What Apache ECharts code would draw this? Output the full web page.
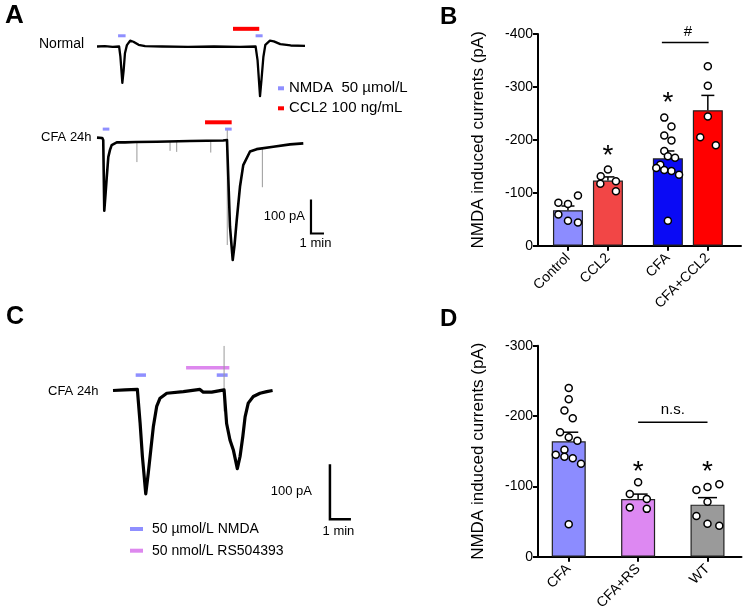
<!DOCTYPE html>
<html><head><meta charset="utf-8">
<script src="https://cdn.jsdelivr.net/npm/echarts@6/dist/echarts.min.js"></script>
<style>html,body{margin:0;padding:0;background:#fff}#c{width:745px;height:615px}</style>
</head><body><div id="c"></div>
<script>
// ===== Panel A: example traces (time in min, current in pA) =====
const normalTrace = [[0,0],[0.6,1],[1.2,-1],[1.7,0],[1.8,-30],[1.95,-107],[2.05,-70],[2.15,-20],[2.3,4],[2.55,17],[2.8,14],[3.2,5],[3.7,1],[5,0],[7,-1],[9,0],[11,-1],[12.2,0],[12.35,-40],[12.54,-146],[12.65,-99],[12.8,-30],[12.95,5],[13.3,17],[13.6,15],[14.1,7],[14.9,3],[16,2]];
const cfaTrace = [[0,10],[0.4,9],[0.48,3],[0.56,-205],[0.65,-159],[0.75,-106],[0.87,-47],[1.0,-26],[1.13,-12],[1.52,-4],[2.15,-4],[3.0,-3],[4.6,-2],[7.15,0],[9.7,1.5],[10.0,3],[10.23,-252],[10.44,-350],[10.58,-306],[10.75,-232],[11.0,-134],[11.25,-71],[11.77,-31],[12.28,-24],[13.56,-17],[14.85,-10],[15.87,-7]];
const cfaSpikes = [[3.07,-3,-62],[5.62,-2,-29],[6.13,-2,-32],[8.75,0,-34],[10.02,32,-306],[12.72,-20,-136]];
const normalNMDA = [[1.62,2.2],[12.2,12.74]];
const normalCCL2 = [[10.46,12.48]];
const cfaNMDA = [[0.44,0.95],[9.85,10.36]];
const cfaCCL2 = [[8.31,10.36]];
// ===== Panel C trace =====
const cTrace = [[0,0],[0.57,1],[1.16,2],[1.29,-59],[1.40,-120],[1.56,-188],[1.68,-150],[1.80,-108],[1.92,-66],[2.08,-29],[2.24,-14],[2.56,-5],[3.35,-2],[4.14,2],[4.30,-3],[4.70,-3],[4.78,0],[5.29,1],[5.33,1],[5.41,-60],[5.57,-90],[5.73,-108],[5.92,-142],[6.05,-120],[6.18,-84],[6.29,-48],[6.44,-23],[6.68,-11],[7.0,-5],[7.32,-2],[7.6,0]];
const cSpikes = [[5.29,81,-38]];
const cNMDA = [[1.08,1.57],[4.94,5.46]];
const cRS = [[3.48,5.54]];
// ===== Panel B =====
const bCategories = ['Control','CCL2','CFA','CFA+CCL2'];
const bPositions = [1,2,3.5,4.5];
const bMeans = [-67,-123,-165,-256];
const bSEM = [8,7,14,28];
const bPoints = [
  [-81,-79,-95,-59,-47,-44],
  [-131,-144,-122,-117,-103],
  [-242,-225,-208,-199,-179,-169,-166,-153,-147,-143,-141,-134,-47],
  [-339,-302,-244,-205,-190]
];
const bJitter = [
  [-0.24,0,0.25,-0.24,0,0.25],
  [-0.18,0,0.2,-0.19,0.2],
  [-0.09,0.09,-0.09,0.09,-0.09,0,0.18,-0.19,-0.29,-0.09,0.09,0.28,0],
  [0,0,0,-0.19,0.2]
];
const bTicks = [-400,-300,-200,-100,0];
// ===== Panel D =====
const dCategories = ['CFA','CFA+RS','WT'];
const dPositions = [1,2,3];
const dMeans = [-164,-82,-74];
const dSEM = [13,7,10];
const dPoints = [
  [-240,-224,-208,-197,-177,-170,-165,-152,-145,-142,-140,-132,-46],
  [-106,-89,-82,-70,-68],
  [-95,-99,-103,-78,-58,-47,-44]
];
const dJitter = [
  [0,0,-0.062,0.058,-0.125,0,0.125,-0.062,-0.187,-0.062,0.058,0.177,0],
  [0,-0.12,0.125,-0.12,0.125],
  [-0.16,0,0.17,0,-0.16,0,0.17]
];
const dTicks = [-300,-200,-100,0];

const F = '"Liberation Sans", Arial, Helvetica, sans-serif';
const chart = echarts.init(document.getElementById('c'), null, {renderer:'canvas'});

function stimSeries(name, intervals, level, color, h, xi){
  return {type:'custom', name, xAxisIndex:xi, yAxisIndex:xi, itemStyle:{color},
    data: intervals.map(d=>[d[0], d[1], level]), encode:{x:[0,1], y:2}, silent:true,
    renderItem(params, api){
      const p0 = api.coord([api.value(0), api.value(2)]);
      const p1 = api.coord([api.value(1), api.value(2)]);
      return {type:'rect', shape:{x:p0[0], y:p0[1]-h/2, width:p1[0]-p0[0], height:h}, style:{fill:color}};
    }};
}
function spikeSeries(spikes, xi){
  return {type:'custom', xAxisIndex:xi, yAxisIndex:xi, data:spikes, encode:{x:0, y:[1,2]}, silent:true,
    renderItem(params, api){
      const p0 = api.coord([api.value(0), api.value(1)]);
      const p1 = api.coord([api.value(0), api.value(2)]);
      return {type:'line', shape:{x1:p0[0], y1:p0[1], x2:p1[0], y2:p1[1]}, style:{stroke:'#999', lineWidth:1}};
    }};
}
function traceSeries(data, xi, w){
  return {type:'line', xAxisIndex:xi, yAxisIndex:xi, data, showSymbol:false, symbol:'none', silent:true,
    lineStyle:{color:'#000', width:w, join:'round'}, z:3};
}
function scaleBarSeries(t, v, xi, w, gapL, gapB){
  return {type:'custom', xAxisIndex:xi, yAxisIndex:xi, data:[[t, v, t+1, v+100]], encode:{x:[0,2], y:[1,3]}, silent:true,
    renderItem(params, api){
      const b = api.coord([api.value(0), api.value(1)]);
      const tp = api.coord([api.value(0), api.value(3)]);
      const r = api.coord([api.value(2), api.value(1)]);
      return {type:'group', children:[
        {type:'polyline', shape:{points:[tp, b, r]}, style:{stroke:'#000', lineWidth:w, fill:null}},
        {type:'text', x:b[0]-gapL, y:(b[1]+tp[1])/2, style:{text:'100 pA', fill:'#000', font:'13px '+F, align:'right', verticalAlign:'middle'}},
        {type:'text', x:(b[0]+r[0])/2 - 2, y:b[1]+gapB, style:{text:'1 min', fill:'#000', font:'13px '+F, align:'center', verticalAlign:'middle'}}
      ]};
    }};
}
function errSeries(pos, means, sems, xi, half){
  return {type:'custom', xAxisIndex:xi, yAxisIndex:xi, data: pos.map((p,i)=>[p, means[i], sems[i]]), encode:{x:0, y:1}, z:4, silent:true,
    renderItem(params, api){
      const x = api.value(0), m = api.value(1), s = api.value(2);
      const p0 = api.coord([x, m]); const p1 = api.coord([x, m - s]);
      return {type:'group', children:[
        {type:'line', shape:{x1:p0[0], y1:p0[1], x2:p1[0], y2:p1[1]}, style:{stroke:'#000', lineWidth:1.5}},
        {type:'line', shape:{x1:p1[0]-half, y1:p1[1], x2:p1[0]+half, y2:p1[1]}, style:{stroke:'#000', lineWidth:1.5}}
      ]};
    }};
}
function pointSeries(pos, pts, jit, xi){
  const data = [];
  pts.forEach((g,i)=>g.forEach((v,j)=>data.push([pos[i]+jit[i][j], v])));
  return {type:'scatter', xAxisIndex:xi, yAxisIndex:xi, data, symbol:'circle', symbolSize:7, z:5, silent:true,
    itemStyle:{color:'#fff', borderColor:'#000', borderWidth:1.5, opacity:1}};
}
function barSeries(pos, means, colors, xi, bw){
  return {type:'bar', xAxisIndex:xi, yAxisIndex:xi, barWidth:bw, silent:true, z:2,
    data: pos.map((p,i)=>({value:[p, means[i]], itemStyle:{color:colors[i], borderColor:'#222', borderWidth:1.2}}))};
}
function annoSeries(annos, xi){
  return {type:'custom', xAxisIndex:xi, yAxisIndex:xi, data: annos.map(a=>a.line ? [a.line[0], a.v] : [a.x, a.v]), encode:{x:0, y:1}, z:6, silent:true,
    renderItem(params, api){
      const a = annos[params.dataIndex];
      if (a.line){
        const p0 = api.coord([a.line[0], a.v]); const p1 = api.coord([a.line[1], a.v]);
        return {type:'line', shape:{x1:p0[0], y1:p0[1], x2:p1[0], y2:p1[1]}, style:{stroke:'#000', lineWidth:1.5}};
      }
      const p = api.coord([a.x, a.v]);
      return {type:'text', x:p[0], y:p[1] + (a.dy||0), style:{text:a.text, fill:'#000', font:a.font, align:'center', verticalAlign:'middle'}};
    }};
}

const bAnnos = [
  {x:2, v:-181, text:'*', font:'28px '+F, dy:6},
  {x:3.5, v:-280, text:'*', font:'28px '+F, dy:6},
  {line:[3.35,4.52], v:-384},
  {x:4.0, v:-404, text:'#', font:'15px '+F, dy:0}
];
const dAnnos = [
  {x:2, v:-129, text:'*', font:'28px '+F, dy:6},
  {x:3, v:-128, text:'*', font:'28px '+F, dy:6},
  {line:[2,3], v:-191},
  {x:2.5, v:-209, text:'n.s.', font:'15px '+F, dy:0}
];

const hiddenAxis = (gi, min, max) => ({type:'value', gridIndex:gi, min, max, show:false, splitLine:{show:false}});
const axStyle = {
  axisLine:{show:true, onZero:false, lineStyle:{color:'#000', width:2}},
  axisTick:{show:true, length:5, lineStyle:{color:'#000', width:2}},
  splitLine:{show:false}
};

const option = {
  animation:false,
  backgroundColor:'#fff',
  textStyle:{fontFamily:F},
  grid:[
    {left:97, top:12.5, width:234, height:102, outerBoundsMode:'none'},
    {left:97, top:107, width:234, height:170, outerBoundsMode:'none'},
    {left:113, top:335.5, width:252, height:220, outerBoundsMode:'none'},
    {left:538, top:34, width:203, height:211.7, outerBoundsMode:'none'},
    {left:538, top:345.7, width:203.5, height:211, outerBoundsMode:'none'}
  ],
  xAxis:[
    hiddenAxis(0,0,18), hiddenAxis(1,0,18), hiddenAxis(2,0,12),
    Object.assign({type:'value', gridIndex:3, min:0.25, max:5.33,
      axisLabel:{customValues:bPositions, formatter:v=>bCategories[bPositions.indexOf(v)], rotate:45, fontSize:14, color:'#000', margin:10, fontFamily:F},
    }, axStyle, {axisTick:{show:true, customValues:bPositions, length:5, lineStyle:{color:'#000', width:2}}}),
    Object.assign({type:'value', gridIndex:4, min:0.557, max:3.49,
      axisLabel:{customValues:dPositions, formatter:v=>dCategories[dPositions.indexOf(v)], rotate:45, fontSize:14, color:'#000', margin:10, fontFamily:F},
    }, axStyle, {axisTick:{show:true, customValues:dPositions, length:5, lineStyle:{color:'#000', width:2}}})
  ],
  yAxis:[
    hiddenAxis(0,-200,100), hiddenAxis(1,-400,100), hiddenAxis(2,-300,100),
    Object.assign({type:'value', gridIndex:3, min:bTicks[0], max:bTicks[bTicks.length-1], interval:100, inverse:true,
      name:'NMDA induced currents (pA)', nameLocation:'middle', nameGap:51, nameTextStyle:{fontSize:17, color:'#000', fontFamily:F},
      axisLabel:{fontSize:14, color:'#000', margin:5, fontFamily:F}}, axStyle),
    Object.assign({type:'value', gridIndex:4, min:dTicks[0], max:dTicks[dTicks.length-1], interval:100, inverse:true,
      name:'NMDA induced currents (pA)', nameLocation:'middle', nameGap:51, nameTextStyle:{fontSize:17, color:'#000', fontFamily:F},
      axisLabel:{fontSize:14, color:'#000', margin:5, fontFamily:F}}, axStyle)
  ],
  legend:[
    {data:['NMDA  50 µmol/L','CCL2 100 ng/mL'], orient:'vertical', left:278, top:80.8, itemWidth:6, itemHeight:4, itemGap:5, padding:0, icon:'rect', selectedMode:false,
      textStyle:{fontSize:15, color:'#000', fontFamily:F}},
    {data:['50 µmol/L NMDA','50 nmol/L RS504393'], orient:'vertical', left:130, top:522, itemWidth:13, itemHeight:4, itemGap:7.7, padding:0, icon:'rect', selectedMode:false,
      textStyle:{fontSize:14, color:'#000', fontFamily:F, padding:[0,0,0,4]}}
  ],
  graphic:[
    {type:'text', left:5, top:3, style:{text:'A', font:'bold 26px '+F, fill:'#000'}},
    {type:'text', left:440, top:5, style:{text:'B', font:'bold 24px '+F, fill:'#000'}},
    {type:'text', left:6, top:305, style:{text:'C', font:'bold 25px '+F, fill:'#000'}},
    {type:'text', left:440, top:307, style:{text:'D', font:'bold 24px '+F, fill:'#000'}},
    {type:'text', x:39, y:44, style:{text:'Normal', font:'14px '+F, fill:'#000', verticalAlign:'middle'}},
    {type:'text', x:41, y:137, style:{text:'CFA 24h', font:'13px '+F, fill:'#000', verticalAlign:'middle'}},
    {type:'text', x:48, y:391, style:{text:'CFA 24h', font:'13px '+F, fill:'#000', verticalAlign:'middle'}}
  ],
  series:[
    // Panel A
    stimSeries('NMDA  50 µmol/L', normalNMDA, 31.5, '#8F8FFF', 3, 0),
    stimSeries('CCL2 100 ng/mL', normalCCL2, 52, '#FF0000', 4, 0),
    traceSeries(normalTrace, 0, 2.3),
    stimSeries('NMDA  50 µmol/L', cfaNMDA, 35, '#8F8FFF', 3, 1),
    stimSeries('CCL2 100 ng/mL', cfaCCL2, 55, '#FF0000', 4, 1),
    spikeSeries(cfaSpikes, 1),
    traceSeries(cfaTrace, 1, 2.6),
    scaleBarSeries(16.46, -272, 1, 2.2, 6, 10),
    // Panel C
    stimSeries('50 µmol/L NMDA', cNMDA, 28, '#8F8FFF', 3.5, 2),
    stimSeries('50 nmol/L RS504393', cRS, 41.5, '#DD88EE', 3.5, 2),
    spikeSeries(cSpikes, 2),
    traceSeries(cTrace, 2, 3.2),
    scaleBarSeries(10.33, -234, 2, 2.5, 18, 12),
    // Panel B
    barSeries(bPositions, bMeans, ['#8C8CFF','#F24646','#0A0AF5','#FF0000'], 3, 30),
    errSeries(bPositions, bMeans, bSEM, 3, 6.5),
    pointSeries(bPositions, bPoints, bJitter, 3),
    annoSeries(bAnnos, 3),
    // Panel D
    barSeries(dPositions, dMeans, ['#8C8CFF','#DD88F2','#9A9A9A'], 4, 34),
    errSeries(dPositions, dMeans, dSEM, 4, 9.5),
    pointSeries(dPositions, dPoints, dJitter, 4),
    annoSeries(dAnnos, 4)
  ]
};
chart.setOption(option);
</script></body></html>
